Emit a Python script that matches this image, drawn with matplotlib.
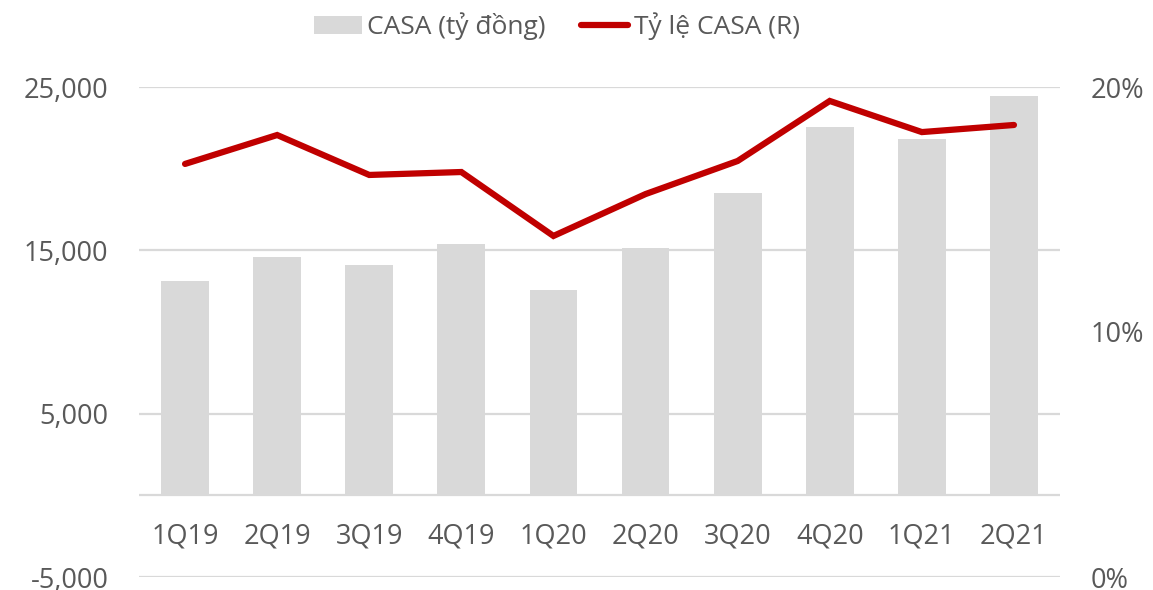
import matplotlib.pyplot as plt
from matplotlib.ticker import FuncFormatter

quarters = ['1Q19', '2Q19', '3Q19', '4Q19', '1Q20', '2Q20', '3Q20', '4Q20', '1Q21', '2Q21']
casa = [13150, 14570, 14080, 15370, 12550, 15120, 18500, 22550, 21810, 24450]
casa_ratio = [16.86, 18.04, 16.41, 16.53, 13.92, 15.63, 16.98, 19.43, 18.16, 18.45]

plt.rcParams['font.family'] = ['Open Sans', 'DejaVu Sans']
text_color = '#595959'
grid_color = '#d9d9d9'

fig = plt.figure(figsize=(11.53, 5.90), dpi=100)
ax = fig.add_axes([139 / 1153, 1 - 577 / 590, 921 / 1153, 490 / 590])
ax2 = ax.twinx()

x = list(range(len(quarters)))

# gridlines + zero line
for v in [-5000, 0, 5000, 15000, 25000]:
  ax.axhline(v, color=grid_color, lw=1.6, zorder=0)

bars = ax.bar(x, casa, width=0.52, color='#d9d9d9', zorder=2, label='CASA (tỷ đồng)')
line, = ax2.plot(x, casa_ratio, color='#c00000', lw=4.5, solid_capstyle='round',
                 solid_joinstyle='miter', label='Tỷ lệ CASA (R)')

ax.set_xlim(-0.5, len(quarters) - 0.5)
ax.set_ylim(-5000, 25000)
ax.set_yticks([-5000, 5000, 15000, 25000])
ax.yaxis.set_major_formatter(FuncFormatter(lambda v, p: '{:,.0f}'.format(v)))
ax2.set_ylim(0, 20)
ax2.set_yticks([0, 10, 20])
ax2.yaxis.set_major_formatter(FuncFormatter(lambda v, p: '{:.0f}%'.format(v)))

for a in (ax, ax2):
  for s in a.spines.values():
    s.set_visible(False)
  a.tick_params(axis='y', length=0, labelsize=19.5, colors=text_color, pad=22)
ax.set_xticks([])

# category labels sit between the zero line and the bottom gridline
for i, q in enumerate(quarters):
  ax.text(i, -2550, q, ha='center', va='center', fontsize=19.5, color=text_color)

fig.legend([bars, line], ['CASA (tỷ đồng)', 'Tỷ lệ CASA (R)'], loc='center',
           bbox_to_anchor=(0.483, 0.955), ncol=2, frameon=False, fontsize=19,
           labelcolor=text_color, handlelength=1.8, handletextpad=0.2,
           columnspacing=1.35, borderpad=0)

plt.savefig('out.png', dpi=100)
